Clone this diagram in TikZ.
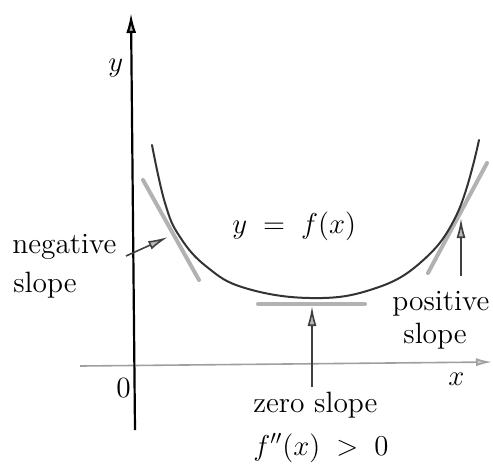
\documentclass[tikz,border=0pt]{standalone}
\usetikzlibrary{arrows.meta}
\begin{document}
\begin{tikzpicture}[x=0.5pt,y=-0.5pt,
  lbl/.style={font=\fontsize{14.7}{18}\selectfont, inner sep=0pt, anchor=base west},
  tang/.style={line width=2pt, draw=gray!60, line cap=round},
  curvestyle/.style={line width=1pt, draw=black!80, line cap=round},
  ptr/.style={line width=0.8pt, draw=black!75, -{Latex[length=10pt,width=4.5pt,fill=gray!55]}},
  xaxis/.style={line width=0.8pt, draw=gray!75, -{Latex[length=8pt,width=4pt,fill=gray!40]}},
  yaxis/.style={line width=1.1pt, draw=black, -{Latex[length=10pt,width=5pt,fill=gray!60]}}
]
\useasboundingbox (0,0) rectangle (493,463);

% axes
\coordinate (xs) at (80,366);
\coordinate (xe) at (492,362);
\coordinate (ys) at (135,430);
\coordinate (ye) at (131,13);
\draw[xaxis] (xs) -- (xe);
\draw[yaxis] (ys) -- (ye);

% tangents
\coordinate (tl1) at (143,180); \coordinate (tl2) at (199,280);
\coordinate (tz1) at (258,304); \coordinate (tz2) at (365,304);
\coordinate (tr1) at (428,273); \coordinate (tr2) at (487,163);
\draw[tang] (tl1) -- (tl2);
\draw[tang] (tz1) -- (tz2);
\draw[tang] (tr1) -- (tr2);

% curve
\draw[curvestyle] plot[smooth, tension=0.7] coordinates {(152,145) (165,203) (180,237) (207,267) (245,288) (310,298) (370,290) (420,263) (457,214) (479,140)};

% labels
\node[lbl] (ylab) at (108,71) {$y$};
\node[lbl] (zero) at (116,397) {0};
\node[lbl] (xlab) at (448,385) {$x$};
\node[lbl] (fun) at (232,233) {$y\;=\;f(x)$};
\node[lbl] (neg1) at (12,253) {negative};
\node[lbl] (neg2) at (13,292) {slope};
\node[lbl] (pos1) at (392,310) {positive};
\node[lbl] (pos2) at (403,343) {slope};
\node[lbl] (zs1) at (253,412) {zero slope};
\node[lbl] (zs2) at (253,455) {$f''(x)\;>\;0$};

% pointers
\coordinate (na) at (126,256); \coordinate (nb) at (168,237);
\coordinate (pa) at (461,276); \coordinate (pb) at (461,218);
\coordinate (za) at (312,387); \coordinate (zb) at (312,306);
\draw[ptr] (na) -- (nb);
\draw[ptr] (pa) -- (pb);
\draw[ptr] (za) -- (zb);
\end{tikzpicture}
\end{document}
